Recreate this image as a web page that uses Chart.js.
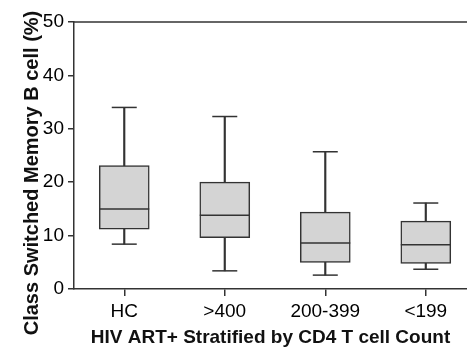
<!DOCTYPE html>
<html>
<head>
<meta charset="utf-8">
<script src="https://cdn.jsdelivr.net/npm/chart.js@4/dist/chart.umd.min.js"></script>
<style>
  body { margin: 0; background: #fff; }
  canvas { display: block; }
</style>
</head>
<body>
<canvas id="myChart" width="467" height="349"></canvas>
<script>
// box plot values
const groups = ["HC", ">400", "200-399", "<199"];
const whiskerLow = [8.4, 3.4, 2.6, 3.7];
const q1 = [11.2, 9.6, 5.0, 4.8];
const median = [15.0, 13.8, 8.6, 8.3];
const q3 = [23.1, 20.0, 14.4, 12.7];
const whiskerHigh = [34.0, 32.3, 25.7, 16.1];
const yTicks = [0, 10, 20, 30, 40, 50];

const lineColor = "#333333";
const fontFamily = "'Liberation Sans', Arial, sans-serif";

const boxData = groups.map((g, i) => ({ x: i, y: [q1[i], q3[i]] }));
const stemData = groups.map((g, i) => ({ x: i, y: [whiskerLow[i], whiskerHigh[i]] }));
const capData = groups.flatMap((g, i) => [
  { x: i, y: whiskerLow[i] },
  { x: i, y: whiskerHigh[i] },
]);
const medianData = groups.map((g, i) => ({ x: i, y: median[i] }));

// y axis title + top frame line
const extras = {
  id: "extras",
  afterDraw(chart) {
    const ctx = chart.ctx;
    const area = chart.chartArea;
    ctx.save();
    ctx.strokeStyle = lineColor;
    ctx.lineWidth = 1.5;
    ctx.beginPath();
    ctx.moveTo(area.left, area.top);
    ctx.lineTo(area.right, area.top);
    ctx.stroke();

    ctx.translate(38, 173);
    ctx.rotate(-Math.PI / 2);
    ctx.fillStyle = "#111";
    ctx.font = "bold 20px " + fontFamily;
    ctx.textAlign = "center";
    ctx.textBaseline = "alphabetic";
    ctx.fillText("Class Switched Memory B cell (%)", 0, 0);
    ctx.restore();
  },
};

new Chart(document.getElementById("myChart"), {
  type: "bar",
  data: {
    datasets: [
      {
        type: "scatter",
        data: medianData,
        pointStyle: "line",
        radius: 25,
        borderColor: lineColor,
        borderWidth: 1.5,
        order: 0,
      },
      {
        type: "scatter",
        data: capData,
        pointStyle: "line",
        radius: 12.5,
        borderColor: lineColor,
        borderWidth: 1.5,
        order: 1,
      },
      {
        data: boxData,
        grouped: false,
        barThickness: 50,
        backgroundColor: "#d4d4d4",
        borderColor: lineColor,
        borderWidth: 1.5,
        borderSkipped: false,
        order: 2,
      },
      {
        data: stemData,
        grouped: false,
        barThickness: 1.5,
        backgroundColor: lineColor,
        borderWidth: 0,
        order: 3,
      },
    ],
  },
  options: {
    responsive: false,
    animation: false,
    layout: { autoPadding: false, padding: { top: 22, right: 0, left: 0, bottom: 0 } },
    plugins: {
      legend: { display: false },
      tooltip: { enabled: false },
    },
    scales: {
      x: {
        type: "linear",
        min: -0.5,
        max: 3.41,
        offset: false,
        afterFit: (scale) => {
          scale.height = 60;
          scale.paddingLeft = 0;
          scale.paddingRight = 0;
        },
        afterBuildTicks: (scale) => {
          scale.ticks = groups.map((g, i) => ({ value: i }));
        },
        ticks: {
          color: "#000",
          font: { family: fontFamily, size: 19 },
          padding: 4,
          callback: (v) => groups[v],
        },
        grid: { offset: false, drawOnChartArea: false, tickLength: 7, color: lineColor, lineWidth: 1.5 },
        border: { color: lineColor, width: 1.5 },
        title: {
          display: true,
          text: "HIV ART+ Stratified by CD4 T cell Count",
          color: "#111",
          font: { family: fontFamily, size: 19, weight: "bold" },
          padding: { top: 1, bottom: 0 },
        },
      },
      y: {
        min: 0,
        max: 50,
        afterFit: (scale) => { scale.width = 74; },
        afterBuildTicks: (scale) => {
          scale.ticks = yTicks.map((v) => ({ value: v }));
        },
        ticks: {
          color: "#000",
          font: { family: fontFamily, size: 19 },
          padding: 4,
        },
        grid: { drawOnChartArea: false, tickLength: 6, color: lineColor, lineWidth: 1.5 },
        border: { color: lineColor, width: 1.5 },
      },
    },
  },
  plugins: [extras],
});
</script>
</body>
</html>
